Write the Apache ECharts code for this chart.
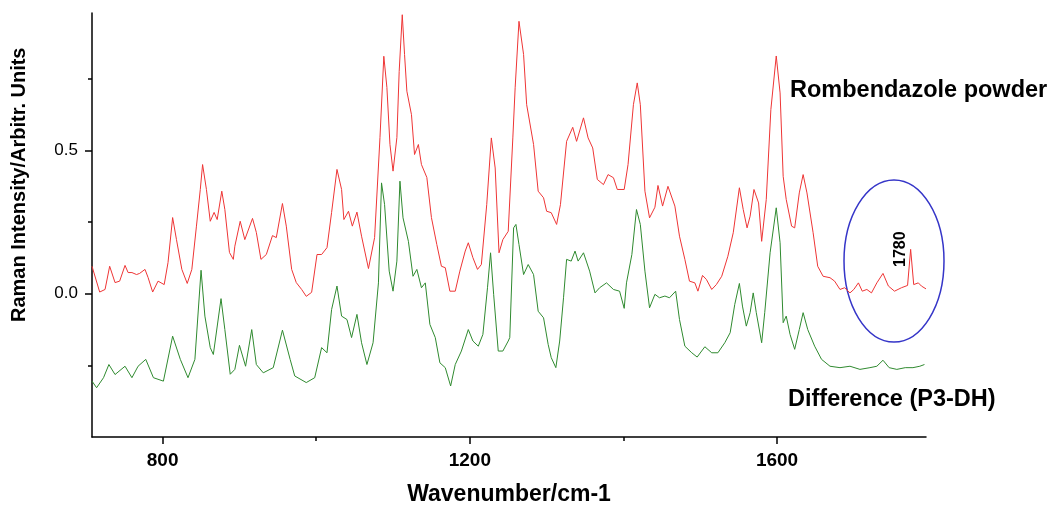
<!DOCTYPE html>
<html>
<head>
<meta charset="UTF-8">
<title>Raman spectra</title>
<script src="https://cdn.jsdelivr.net/npm/echarts@6/dist/echarts.min.js"></script>
<style type="text/css">
  *{margin:0;padding:0;}
  body{background:#fff;}
  #main{width:1052px;height:510px;}
</style>
</head>
<body>
<div id="main"></div>
<script type="text/javascript">
// [wavenumber, intensity]
var powder = [
  [708,0.096],[718,0.006],[725,0.015],[731,0.096],[738,0.039],[744,0.044],[751,0.099],[755,0.074],
  [760,0.074],[766,0.067],[770,0.071],[777,0.085],[781,0.057],[787,0.006],[794,0.044],[802,0.032],
  [807,0.109],[813,0.266],[818,0.189],[825,0.085],[832,0.036],[838,0.085],[844,0.236],[849,0.364],
  [852,0.451],[857,0.364],[862,0.253],[867,0.284],[871,0.259],[877,0.358],[881,0.294],[887,0.144],
  [892,0.120],[894,0.166],[901,0.253],[907,0.189],[917,0.263],[922,0.214],[928,0.120],[935,0.137],
  [943,0.203],[948,0.196],[956,0.315],[961,0.236],[968,0.085],[974,0.039],[981,0.015],[987,-0.009],
  [994,0.005],[1001,0.137],[1007,0.137],[1014,0.161],[1020,0.284],[1027,0.434],[1033,0.364],[1036,0.259],
  [1042,0.288],[1047,0.236],[1053,0.285],[1059,0.201],[1068,0.088],[1076,0.196],[1083,0.545],[1088,0.829],
  [1092,0.720],[1096,0.521],[1100,0.428],[1105,0.545],[1108,0.776],[1112,0.974],[1115,0.835],[1118,0.707],
  [1124,0.625],[1128,0.486],[1133,0.521],[1137,0.451],[1144,0.406],[1150,0.266],[1157,0.172],[1163,0.096],
  [1168,0.091],[1174,0.009],[1181,0.009],[1187,0.079],[1194,0.149],[1198,0.178],[1204,0.126],[1210,0.085],
  [1215,0.102],[1222,0.311],[1228,0.544],[1233,0.439],[1238,0.143],[1243,0.189],[1250,0.218],[1256,0.544],
  [1259,0.719],[1264,0.951],[1270,0.835],[1274,0.660],[1283,0.521],[1289,0.358],[1296,0.335],[1300,0.288],
  [1306,0.283],[1313,0.242],[1318,0.311],[1326,0.532],[1334,0.581],[1339,0.532],[1348,0.614],[1354,0.544],
  [1360,0.509],[1366,0.399],[1374,0.381],[1380,0.416],[1387,0.405],[1392,0.364],[1401,0.364],[1406,0.451],
  [1413,0.660],[1418,0.736],[1422,0.660],[1428,0.358],[1434,0.265],[1441,0.302],[1445,0.378],[1451,0.306],
  [1458,0.375],[1467,0.306],[1473,0.201],[1480,0.120],[1486,0.044],[1493,0.038],[1497,0.009],[1503,0.064],
  [1508,0.050],[1515,0.015],[1521,0.032],[1528,0.061],[1536,0.131],[1543,0.213],[1551,0.370],[1556,0.294],
  [1561,0.230],[1565,0.271],[1570,0.364],[1576,0.317],[1580,0.183],[1586,0.329],[1592,0.643],[1599,0.830],
  [1604,0.701],[1608,0.410],[1612,0.329],[1619,0.236],[1623,0.230],[1629,0.352],[1634,0.416],[1639,0.352],
  [1647,0.213],[1653,0.096],[1660,0.061],[1669,0.056],[1675,0.044],[1682,0.015],[1688,0.021],[1695,0.003],
  [1700,0.015],[1706,0.038],[1711,0.009],[1717,0.015],[1723,0.003],[1730,0.038],[1738,0.071],[1745,0.027],
  [1753,0.009],[1762,0.021],[1770,0.029],[1774,0.155],[1778,0.032],[1784,0.038],[1788,0.027],[1794,0.017]
];
var difference = [
  [708,-0.305],[714,-0.328],[723,-0.293],[730,-0.247],[738,-0.282],[751,-0.253],[760,-0.293],[768,-0.253],
  [778,-0.229],[788,-0.293],[801,-0.305],[813,-0.148],[823,-0.229],[833,-0.293],[842,-0.229],[850,0.082],
  [855,-0.078],[862,-0.188],[866,-0.212],[876,-0.017],[881,-0.125],[888,-0.281],[894,-0.264],[900,-0.180],
  [908,-0.253],[916,-0.125],[922,-0.247],[931,-0.276],[944,-0.258],[956,-0.127],[966,-0.229],[972,-0.287],
  [987,-0.310],[998,-0.293],[1007,-0.188],[1014,-0.206],[1020,-0.055],[1027,0.027],[1033,-0.078],[1040,-0.090],
  [1046,-0.153],[1053,-0.072],[1059,-0.171],[1066,-0.247],[1074,-0.171],[1081,0.038],[1085,0.387],[1089,0.311],
  [1095,0.079],[1100,0.009],[1105,0.114],[1109,0.393],[1113,0.265],[1120,0.183],[1126,0.061],[1131,0.085],
  [1137,0.021],[1142,0.038],[1148,-0.107],[1155,-0.153],[1161,-0.241],[1168,-0.258],[1175,-0.322],[1181,-0.247],
  [1189,-0.200],[1198,-0.125],[1204,-0.165],[1211,-0.183],[1217,-0.142],[1223,0.021],[1227,0.143],[1231,-0.002],
  [1237,-0.200],[1243,-0.200],[1250,-0.165],[1252,-0.153],[1257,0.230],[1260,0.242],[1264,0.172],[1270,0.067],
  [1276,0.102],[1283,0.067],[1289,-0.061],[1296,-0.084],[1302,-0.177],[1306,-0.223],[1312,-0.258],[1317,-0.165],
  [1322,-0.014],[1326,0.120],[1332,0.114],[1337,0.149],[1341,0.114],[1348,0.143],[1356,0.079],[1363,0.003],
  [1369,0.021],[1378,0.038],[1387,0.015],[1395,0.009],[1401,-0.051],[1404,0.038],[1411,0.137],[1417,0.294],
  [1422,0.242],[1428,0.079],[1434,-0.049],[1441,-0.002],[1447,-0.014],[1454,-0.008],[1460,-0.014],[1468,0.009],
  [1473,-0.090],[1480,-0.183],[1489,-0.206],[1496,-0.221],[1506,-0.185],[1515,-0.206],[1523,-0.206],[1532,-0.171],
  [1539,-0.136],[1545,-0.037],[1551,0.036],[1555,-0.043],[1560,-0.113],[1565,-0.066],[1569,0.003],[1573,-0.066],
  [1580,-0.171],[1584,-0.066],[1591,0.143],[1599,0.300],[1604,0.178],[1608,-0.101],[1612,-0.078],[1617,-0.142],
  [1623,-0.194],[1629,-0.125],[1634,-0.066],[1640,-0.125],[1649,-0.183],[1658,-0.229],[1669,-0.253],[1682,-0.258],
  [1695,-0.253],[1708,-0.264],[1721,-0.258],[1730,-0.253],[1738,-0.232],[1746,-0.258],[1756,-0.264],[1767,-0.258],
  [1777,-0.258],[1786,-0.253],[1792,-0.247]
];
var xLabels = [800, 1200, 1600];
var xMinorTicks = [1000, 1400];
var yLabels = [0, 0.5];
var yMinorTicks = [-0.25, 0.25, 0.75];

var font = '"Liberation Sans", Arial, sans-serif';
var myChart = echarts.init(document.getElementById('main'));
var option = {
  animation: false,
  grid: {left: 92, right: 126, top: 13, bottom: 73, outerBoundsMode: 'none'},
  xAxis: [
    {
      type: 'value', min: 708, max: 1794,
      name: 'Wavenumber/cm-1', nameLocation: 'middle', nameGap: 46,
      nameTextStyle: {fontFamily: font, fontSize: 23, fontWeight: 'bold', color: '#000'},
      splitLine: {show: false},
      axisLine: {show: true, onZero: false, lineStyle: {color: '#000', width: 1.5}},
      axisTick: {show: true, length: 7, customValues: xLabels, lineStyle: {color: '#000', width: 1.5}},
      axisLabel: {customValues: xLabels, margin: 14, fontFamily: font, fontSize: 19, fontWeight: 'bold', color: '#000',
        formatter: function (v) { return String(v); }}
    },
    {
      type: 'value', min: 708, max: 1794, position: 'bottom',
      splitLine: {show: false},
      axisLine: {show: false, onZero: false},
      axisTick: {show: true, length: 4, customValues: xMinorTicks, lineStyle: {color: '#000', width: 1.5}},
      axisLabel: {show: false}
    }
  ],
  yAxis: [
    {
      type: 'value', min: -0.5, max: 0.98,
      splitLine: {show: false},
      axisLine: {show: true, onZero: false, lineStyle: {color: '#000', width: 1.5}},
      axisTick: {show: true, length: 7, customValues: yLabels, lineStyle: {color: '#000', width: 1.5}},
      axisLabel: {customValues: yLabels, margin: 14, fontFamily: font, fontSize: 17, color: '#000',
        formatter: function (v) { return v.toFixed(1); }}
    },
    {
      type: 'value', min: -0.5, max: 0.98, position: 'left', offset: 0,
      splitLine: {show: false},
      axisLine: {show: false, onZero: false},
      axisTick: {show: true, length: 4, customValues: yMinorTicks, lineStyle: {color: '#000', width: 1.5}},
      axisLabel: {show: false}
    }
  ],
  series: [
    {
      name: 'Rombendazole powder', type: 'line', data: powder,
      showSymbol: false, symbol: 'none',
      lineStyle: {color: '#ee3535', width: 1}
    },
    {
      name: 'Difference (P3-DH)', type: 'line', data: difference,
      showSymbol: false, symbol: 'none',
      lineStyle: {color: '#2f8a2f', width: 1}
    }
  ],
  graphic: [
    {type: 'text', x: 9, y: 322, rotation: Math.PI / 2,
      style: {text: 'Raman Intensity/Arbitr. Units', font: 'bold 20px ' + font, fill: '#000'}},
    {type: 'text', left: 790, top: 79,
      style: {text: 'Rombendazole powder', font: 'bold 23.5px ' + font, fill: '#000'}},
    {type: 'text', left: 788, top: 388,
      style: {text: 'Difference (P3-DH)', font: 'bold 23.5px ' + font, fill: '#000'}},
    {type: 'ellipse', shape: {cx: 894, cy: 261, rx: 50, ry: 81},
      style: {fill: 'none', stroke: '#3535c8', lineWidth: 1.5}},
    {type: 'text', x: 893, y: 267, rotation: Math.PI / 2,
      style: {text: '1780', font: 'bold 16px ' + font, fill: '#000'}}
  ]
};
myChart.setOption(option);
</script>
</body>
</html>
